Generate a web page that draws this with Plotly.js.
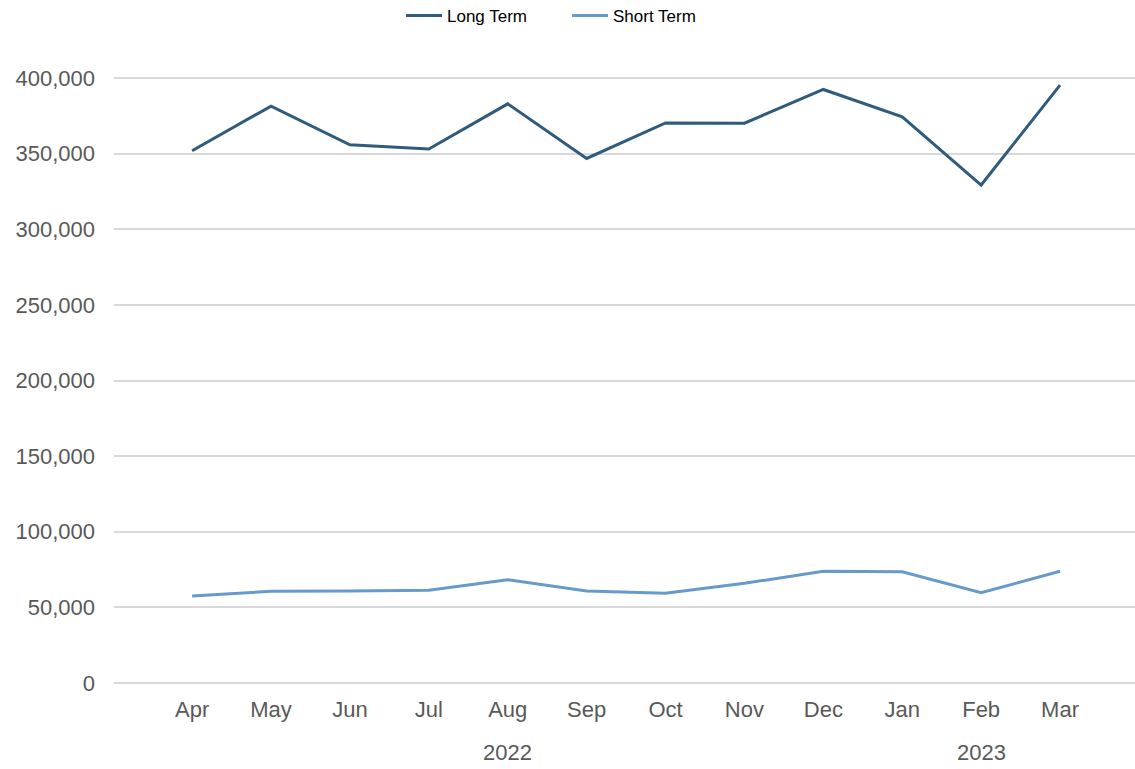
<!DOCTYPE html>
<html>
<head>
<meta charset="utf-8">
<script src="https://cdn.plot.ly/plotly-3.0.1.min.js"></script>
<style>
  html, body { margin: 0; padding: 0; background: #ffffff; }
  #chart { width: 1135px; height: 769px; }
</style>
</head>
<body>
<div id="chart"></div>
<script>
// Monthly counts, April 2022 to March 2023
const months = ["Apr", "May", "Jun", "Jul", "Aug", "Sep", "Oct", "Nov", "Dec", "Jan", "Feb", "Mar"];
const years = ["2022", "2022", "2022", "2022", "2022", "2022", "2022", "2022", "2022", "2023", "2023", "2023"];
const longTerm = [352000, 381500, 355900, 353100, 383000, 346900, 370400, 370200, 392500, 374400, 329300, 395400];
const shortTerm = [57500, 60600, 60800, 61300, 68300, 60800, 59300, 65900, 73900, 73600, 59700, 73900];
const yTicks = [0, 50000, 100000, 150000, 200000, 250000, 300000, 350000, 400000];

const FONT = "Liberation Sans, Arial, sans-serif";
const xIdx = months.map((m, i) => i);

// One year label centred under each run of months belonging to that year
const yearGroups = [];
years.forEach((y, i) => {
  const g = yearGroups.find(e => e.year === y);
  if (g) g.idx.push(i); else yearGroups.push({ year: y, idx: [i] });
});
const yearAnnotations = yearGroups.map(g => ({
  x: g.idx[Math.floor(g.idx.length / 2)],
  xref: "x",
  y: -0.112,
  yref: "paper",
  yanchor: "middle",
  xanchor: "center",
  text: g.year,
  showarrow: false,
  font: { family: FONT, size: 22, color: "#595959" }
}));

const traces = [
  {
    x: xIdx, y: longTerm, name: "Long Term", type: "scatter", mode: "lines",
    line: { color: "#2f5b7d", width: 3 }
  },
  {
    x: xIdx, y: shortTerm, name: "Short Term", type: "scatter", mode: "lines",
    line: { color: "#6699cc", width: 3 }
  }
];

const layout = {
  width: 1135,
  height: 769,
  margin: { l: 114, r: 0, t: 63, b: 86 },
  paper_bgcolor: "#ffffff",
  plot_bgcolor: "#ffffff",
  font: { family: FONT, color: "#595959" },
  showlegend: true,
  legend: {
    orientation: "h",
    xref: "container", yref: "container",
    x: 401 / 1135, xanchor: "left",
    y: 1 - 16 / 769, yanchor: "middle",
    font: { family: FONT, size: 17, color: "#000000" },
    itemwidth: 36,
    entrywidth: 115,
    entrywidthmode: "pixels",
    tracegroupgap: 0
  },
  xaxis: {
    type: "linear",
    range: [-0.99, 11.95],
    tickmode: "array",
    tickvals: xIdx,
    ticktext: months,
    showgrid: false,
    zeroline: false,
    showline: false,
    ticks: "",
    tickfont: { family: FONT, size: 22, color: "#595959" },
    ticklabelstandoff: 11
  },
  yaxis: {
    range: [0, 410000],
    tickmode: "array",
    tickvals: yTicks,
    ticktext: yTicks.map(v => v.toLocaleString("en-US")),
    showgrid: true,
    gridcolor: "#d9d9d9",
    gridwidth: 2,
    zeroline: true,
    zerolinecolor: "#d9d9d9",
    zerolinewidth: 2,
    showline: false,
    ticks: "",
    tickfont: { family: FONT, size: 22, color: "#595959" },
    ticklabelstandoff: 18
  },
  annotations: yearAnnotations
};

Plotly.newPlot("chart", traces, layout, { displayModeBar: false, staticPlot: true });
</script>
</body>
</html>
